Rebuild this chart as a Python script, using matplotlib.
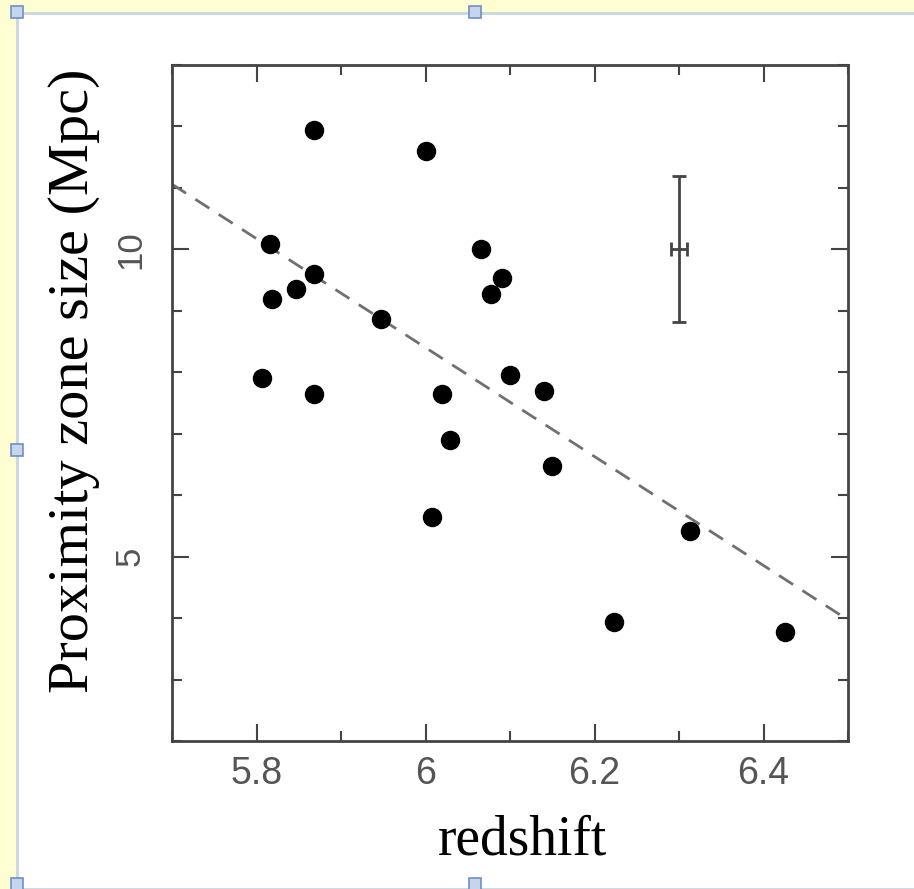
import matplotlib
matplotlib.use("Agg")
import matplotlib.pyplot as plt
from matplotlib.patches import Rectangle
from matplotlib.ticker import MultipleLocator

# quasar proximity zones
redshift = [5.868, 6.000, 5.816, 6.066, 5.868, 6.090, 5.818, 5.847, 6.078, 5.947,
            5.806, 6.100, 5.868, 6.019, 6.140, 6.029, 6.150, 6.008, 6.313, 6.223, 6.425]
zone_size = [11.94, 11.60, 10.08, 10.00, 9.60, 9.53, 9.19, 9.35, 9.28, 8.86,
             7.90, 7.96, 7.64, 7.64, 7.70, 6.90, 6.48, 5.65, 5.41, 3.93, 3.78]

# dashed trend line end points
fit_x = [5.70, 6.50]
fit_y = [11.06, 3.97]

# typical error bar
err_x, err_y = 6.300, 10.0
err_dx, err_dy = 0.01, 1.19

fig = plt.figure(figsize=(9.14, 8.89), dpi=100)
fig.patch.set_facecolor('#fffdd2')
fig.add_artist(Rectangle((17 / 914, 0), 1, 1 - 13 / 889, transform=fig.transFigure,
                         facecolor='white', edgecolor='#c9d6e3', linewidth=2, zorder=-5))

ax = fig.add_axes([172 / 914, 1 - 741 / 889, 676 / 914, 676 / 889])
ax.patch.set_alpha(0)
ax.plot(fit_x, fit_y, linestyle=(0, (6, 4)), color='#707070', linewidth=2)
ax.plot(redshift, zone_size, 'o', color='black', markersize=13)
ax.errorbar([err_x], [err_y], xerr=[err_dx], yerr=[err_dy], fmt='none',
            ecolor='#444444', elinewidth=2, capsize=5, capthick=2)

ax.set_xlim(5.7, 6.5)
ax.set_ylim(2, 13)
ax.set_xticks([5.8, 6.0, 6.2, 6.4])
ax.set_xticklabels(['5.8', '6', '6.2', '6.4'])
ax.xaxis.set_minor_locator(MultipleLocator(0.1))
ax.set_yticks([5, 10])
ax.yaxis.set_minor_locator(MultipleLocator(1))
ax.tick_params(which='both', direction='in', top=True, right=True,
               colors='#444444', labelcolor='#555555', width=1.5)
ax.tick_params(which='major', length=12)
ax.tick_params(axis='x', which='major', pad=11, labelsize=27)
ax.tick_params(axis='y', which='major', pad=18, labelsize=25)
ax.tick_params(which='minor', length=7)
for lab in ax.get_xticklabels() + ax.get_yticklabels():
    lab.set_family('Liberation Sans')
for lab in ax.get_yticklabels():
    lab.set_rotation(90)
    lab.set_va('center')
for s in ax.spines.values():
    s.set_color('#444444')
    s.set_linewidth(2)

ax.set_xlabel('redshift', family='Liberation Serif', fontsize=40)
ax.xaxis.set_label_coords(0.518, -0.108)
ax.set_ylabel('Proximity zone size (Mpc)', family='Liberation Serif', fontsize=42)
ax.yaxis.set_label_coords(-0.106, 0.533)

# slide selection handles
for hx, hy in [(17, 12), (475, 12), (17, 450), (475, 884), (17, 884)]:
    fig.add_artist(Rectangle(((hx - 6) / 914, 1 - (hy + 6) / 889), 12 / 914, 12 / 889,
                             transform=fig.transFigure, facecolor='#c5d5ee',
                             edgecolor='#6f8fc8', linewidth=1.2))

fig.savefig('out.png', dpi=100, facecolor=fig.get_facecolor())
